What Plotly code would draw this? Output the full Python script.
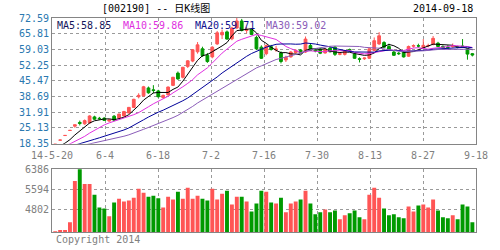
import plotly.graph_objects as go
import pandas as pd

# ---------------- data ----------------
date_labels = ["14-5-20", "6-4", "6-18", "7-2", "7-16", "7-30", "8-13", "8-27", "9-18"]
price_ticks = [18.35, 25.13, 31.91, 38.69, 45.47, 52.25, 59.03, 65.81, 72.59]
volume_ticks = [4802, 5594, 6386]

# closes before the first shown day (only feed the moving averages)
pre_close = [14.6, 14.7, 14.5, 14.8, 14.9, 15.0, 14.8, 15.1, 15.2, 15.0,
             15.3, 15.5, 15.4, 15.6, 15.8, 16.0, 16.1, 15.9, 16.0, 16.2,
             16.1, 16.3, 16.2, 16.4, 16.3, 16.5, 16.4, 16.3, 16.5, 16.45]

open_ = [18.05, 19.85, 21.85, 24.03, 25.90, 27.50, 26.90, 27.30, 29.90, 29.30,
         29.40, 28.10, 30.20, 29.40, 30.30, 31.60, 34.00, 38.60, 39.00, 42.40,
         41.60, 41.10, 38.20, 39.40, 43.50, 48.80, 47.00, 51.70, 54.00, 58.00,
         59.30, 56.50, 55.80, 61.40, 65.30, 66.60, 63.60, 68.30, 71.30, 67.20,
         67.60, 64.20, 60.00, 57.20, 60.20, 58.80, 57.50, 54.50, 55.80, 57.60,
         58.80, 57.90, 60.70, 58.80, 59.20, 57.50, 59.60, 60.00, 56.90, 56.90,
         59.00, 57.00, 55.00, 55.00, 55.20, 58.60, 61.40, 62.00, 60.30, 57.90,
         57.40, 57.90, 56.10, 60.40, 60.60, 59.80, 60.50, 61.20, 61.70, 60.30,
         59.90, 60.20, 60.10, 60.50, 59.20, 57.20]
high = [18.10, 19.91, 21.90, 24.09, 26.50, 28.30, 28.80, 30.60, 30.40, 29.90,
        29.70, 28.90, 30.70, 31.40, 32.50, 34.20, 37.70, 40.10, 43.30, 43.00,
        43.60, 41.60, 39.50, 43.00, 47.20, 49.50, 51.50, 54.40, 59.20, 62.20,
        60.20, 57.50, 60.40, 67.00, 67.60, 67.20, 68.80, 72.59, 72.20, 68.60,
        68.20, 65.00, 60.80, 61.20, 61.00, 60.60, 58.20, 56.30, 58.30, 59.20,
        59.20, 64.60, 61.50, 59.50, 59.80, 59.50, 60.20, 60.50, 57.80, 58.80,
        59.40, 57.60, 55.60, 55.50, 59.50, 64.20, 66.50, 62.60, 61.50, 58.50,
        58.00, 58.40, 60.70, 61.20, 61.50, 63.50, 61.50, 64.80, 62.30, 60.80,
        60.80, 61.60, 60.60, 63.50, 59.40, 57.50]
low = [18.05, 19.85, 21.85, 24.03, 25.20, 26.20, 26.50, 27.00, 28.60, 28.70,
       28.20, 27.80, 28.10, 29.10, 30.00, 31.40, 33.80, 37.90, 38.60, 39.90,
       40.10, 38.30, 37.90, 39.10, 43.20, 45.90, 46.50, 51.00, 53.50, 57.20,
       55.80, 53.20, 55.20, 61.00, 63.50, 63.20, 63.00, 67.80, 66.80, 66.00,
       65.20, 58.80, 54.90, 56.50, 58.50, 58.00, 53.00, 53.60, 55.50, 57.20,
       57.20, 57.50, 58.30, 57.80, 57.00, 57.20, 57.80, 56.20, 56.50, 56.40,
       58.00, 55.00, 53.40, 54.50, 55.00, 58.30, 61.00, 59.60, 58.50, 56.20,
       56.60, 55.50, 55.80, 59.80, 59.80, 59.50, 59.90, 60.80, 60.00, 59.50,
       59.30, 59.80, 59.50, 59.90, 54.60, 56.00]
close = [18.10, 19.91, 21.90, 24.09, 26.50, 27.10, 28.30, 30.30, 28.90, 29.10,
         28.40, 28.60, 28.50, 31.10, 32.20, 34.00, 37.50, 39.20, 42.90, 40.30,
         41.30, 38.60, 39.20, 42.80, 47.00, 46.30, 51.30, 54.10, 58.90, 61.00,
         56.30, 53.80, 60.00, 66.20, 66.40, 63.50, 68.30, 71.30, 67.20, 67.60,
         65.50, 59.30, 55.20, 60.70, 59.00, 59.20, 53.80, 55.60, 57.90, 58.60,
         57.50, 63.50, 58.60, 58.40, 57.40, 59.00, 58.00, 56.90, 57.20, 58.40,
         58.60, 55.20, 54.80, 55.30, 59.30, 62.80, 64.90, 60.00, 58.90, 56.50,
         57.20, 55.80, 60.30, 60.70, 60.50, 60.80, 60.70, 63.80, 60.30, 59.80,
         59.70, 60.50, 59.90, 60.30, 57.00, 56.60]
volume = [3960, 4011, 4011, 4318, 5926, 6420, 5811, 5811, 5390, 4892,
          4854, 4548, 5084, 5237, 5122, 5160, 5275, 5620, 5467, 5314,
          5352, 5250, 4892, 5314, 5199, 5505, 5237, 5658, 5237, 5352,
          5237, 5160, 5620, 5199, 5429, 5543, 5007, 5314, 5314, 5122,
          4739, 5045, 5543, 5505, 5084, 5045, 5275, 4701, 5045, 5122,
          5199, 5543, 5045, 4624, 4701, 4816, 4701, 4777, 4433, 4586,
          4662, 4777, 4509, 4433, 5390, 5658, 5275, 4854, 4586, 4624,
          4509, 4471, 4931, 4739, 4969, 5007, 4892, 5199, 4777, 4509,
          4471, 4586, 4433, 5007, 4931, 4318]

ma_periods = [5, 10, 20, 30]
ma_labels = ["MA5:58.85", "MA10:59.86", "MA20:59.71", "MA30:59.02"]

# ---------------- styles ----------------
RED = "#ff5555"
GREEN = "#009a00"
MA_COLORS = ["#000000", "#e030e0", "#000099", "#8a5cb8"]
MA_TEXT_COLORS = ["#14145a", "#e030e0", "#10108f", "#8a5cb8"]
GRID = "#9a9a9a"
BORDER = "#858585"
MONO = "DejaVu Sans Mono, Noto Sans CJK SC, monospace"

n = len(close)
idx = list(range(n))
allc = pd.Series(pre_close + close)
npre = len(pre_close)

fig = go.Figure()
fig.add_trace(go.Candlestick(
    x=idx, open=open_, high=high, low=low, close=close,
    increasing=dict(line=dict(color=RED, width=1), fillcolor=RED),
    decreasing=dict(line=dict(color=GREEN, width=1), fillcolor=GREEN),
    whiskerwidth=0, xaxis="x", yaxis="y", hoverinfo="skip"))

for p, col in zip(ma_periods, MA_COLORS):
    ma = allc.rolling(p).mean().iloc[npre:].tolist()
    fig.add_trace(go.Scatter(x=idx, y=ma, mode="lines",
                             line=dict(color=col, width=1),
                             xaxis="x", yaxis="y", hoverinfo="skip"))

vcolors = [RED if c >= o else GREEN for o, c in zip(open_, close)]
fig.add_trace(go.Bar(x=idx, y=volume, marker=dict(color=vcolors, line=dict(width=0)),
                     xaxis="x2", yaxis="y2", hoverinfo="skip"))

# axis geometry
x0, x1 = -0.66, n - 1 + 0.74
eps = 1e-6
tickpos = [x0 + eps + (x1 - x0 - 2 * eps) * k / (len(date_labels) - 1) for k in range(len(date_labels))]

common_x = dict(range=[x0, x1], tickmode="array", tickvals=tickpos,
                showgrid=True, gridcolor=GRID, griddash="dot", gridwidth=1,
                showline=True, mirror=True, linecolor=BORDER, linewidth=1,
                zeroline=False, ticks="", fixedrange=True)

fig.update_layout(
    width=500, height=250,
    margin=dict(l=52, r=15, t=18, b=14),
    paper_bgcolor="white", plot_bgcolor="white",
    showlegend=False, boxgap=0.2, bargap=0.2,
    font=dict(family=MONO, size=10, color="#808080"),
    xaxis=dict(domain=[0, 1], anchor="y", ticktext=date_labels,
               tickfont=dict(family=MONO, size=10, color="#808080"),
               ticklabelstandoff=2,
               rangeslider=dict(visible=False), **common_x),
    yaxis=dict(domain=[0.4128, 1], anchor="x", range=[18.35 - 0.001, 72.59 + 0.001],
               tickmode="array", tickvals=price_ticks,
               ticktext=["%.2f" % v for v in price_ticks],
               tickfont=dict(family=MONO, size=10, color="#2a78b0"),
               showgrid=True, gridcolor=GRID, griddash="dot",
               showline=True, mirror=True, linecolor=BORDER, linewidth=1,
               zeroline=False, ticks="", fixedrange=True),
    xaxis2=dict(domain=[0, 1], anchor="y2", showticklabels=False, **common_x),
    yaxis2=dict(domain=[0, 0.2936], anchor="x2", range=[3935, 6387],
                tickmode="array", tickvals=volume_ticks,
                ticktext=[str(v) for v in volume_ticks],
                tickfont=dict(family=MONO, size=10, color="#808080"),
                showgrid=True, gridcolor=GRID, griddash="dot",
                showline=True, mirror=True, linecolor=BORDER, linewidth=1,
                zeroline=False, ticks="", fixedrange=True),
)

ann = []
ma_x = [55, 122, 196, 268]
for lab, col, px in zip(ma_labels, MA_TEXT_COLORS, ma_x):
    ann.append(dict(text=lab, x=(px - 52) / 433, y=(236 - 26) / 218, xref="paper", yref="paper",
                    xanchor="left", yanchor="middle", showarrow=False,
                    font=dict(family=MONO, size=10, color=col)))
ann.append(dict(text="[002190] -- 日K线图", x=(158 - 52) / 433, y=(236 - 8) / 218,
                xref="paper", yref="paper", xanchor="center", yanchor="middle",
                showarrow=False, font=dict(family=MONO, size=10, color="#000000")))
ann.append(dict(text="2014-09-18", x=(484 - 52) / 433, y=(236 - 8) / 218,
                xref="paper", yref="paper", xanchor="right", yanchor="middle",
                showarrow=False, font=dict(family=MONO, size=10, color="#000000")))
ann.append(dict(text="Copyright 2014", x=(54 - 52) / 433, y=(236 - 244) / 218,
                xref="paper", yref="paper", xanchor="left", yanchor="middle",
                showarrow=False, font=dict(family=MONO, size=10, color="#808080")))
fig.update_layout(annotations=ann)

fig.write_html("out.html")
